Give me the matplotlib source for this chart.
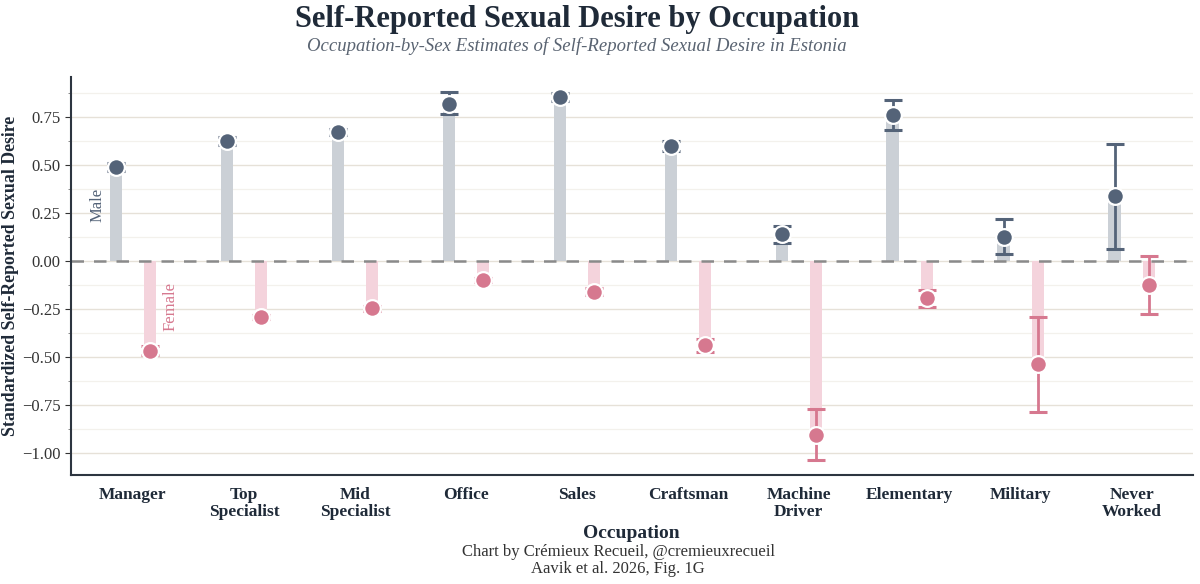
import numpy as np
import matplotlib
matplotlib.use("Agg")
import matplotlib.pyplot as plt
from matplotlib.ticker import MultipleLocator

occupations = ["Manager", "Top\nSpecialist", "Mid\nSpecialist", "Office", "Sales",
               "Craftsman", "Machine\nDriver", "Elementary", "Military", "Never\nWorked"]

male_est = [0.49, 0.625, 0.67, 0.82, 0.855, 0.60, 0.14, 0.76, 0.127, 0.338]
male_lo = [0.47, 0.605, 0.655, 0.765, 0.835, 0.575, 0.095, 0.68, 0.035, 0.062]
male_hi = [0.51, 0.645, 0.685, 0.88, 0.875, 0.625, 0.18, 0.84, 0.217, 0.61]

female_est = [-0.468, -0.293, -0.248, -0.098, -0.16, -0.44, -0.905, -0.195, -0.54, -0.125]
female_lo = [-0.49, -0.305, -0.26, -0.11, -0.18, -0.475, -1.04, -0.24, -0.79, -0.278]
female_hi = [-0.445, -0.28, -0.236, -0.087, -0.14, -0.405, -0.77, -0.152, -0.295, 0.028]

male_dark = "#546378"
male_stem = "#cbd0d6"
female_dark = "#d6788f"
female_stem = "#f4d3dc"
text_dark = "#1f2a38"

plt.rcParams["font.family"] = ["Liberation Serif", "DejaVu Serif"]

fig, ax = plt.subplots(figsize=(12, 5.84), dpi=100)
fig.subplots_adjust(left=0.059, right=0.994, top=0.868, bottom=0.187)

x = np.arange(len(occupations))
off = 0.155

# light stems from zero to each estimate
ax.bar(x - off, male_est, width=0.11, color=male_stem, zorder=2)
ax.bar(x + off, female_est, width=0.11, color=female_stem, zorder=2)

for xs, est, lo, hi, col in [(x - off, male_est, male_lo, male_hi, male_dark),
                             (x + off, female_est, female_lo, female_hi, female_dark)]:
    est = np.array(est)
    yerr = [est - np.array(lo), np.array(hi) - est]
    ax.errorbar(xs, est, yerr=yerr, fmt="none", ecolor=col, elinewidth=2,
                capsize=6.4, capthick=2.2, zorder=3)
    ax.scatter(xs, est, s=145, color=col, edgecolor="white", linewidth=1.6, zorder=4)

ax.axhline(0, color="#8a8a8a", linestyle=(0, (5, 4)), linewidth=1.8, zorder=2.5)

ax.text(-off - 0.16, 0.29, "Male", rotation=90, ha="center", va="center",
        color=male_dark, fontsize=12)
ax.text(off + 0.18, -0.24, "Female", rotation=90, ha="center", va="center",
        color=female_dark, fontsize=12)

ax.set_xlim(-0.56, 9.55)
ax.set_ylim(-1.115, 0.958)
ax.yaxis.set_major_locator(MultipleLocator(0.25))
ax.yaxis.set_minor_locator(MultipleLocator(0.125))
ticks = np.arange(-1.0, 0.76, 0.25)
ax.set_yticks(ticks)
ax.set_yticklabels([f"{v:.2f}".replace("-", "\u2212") for v in ticks])
ax.grid(axis="y", which="major", color="#e6e1d8", linewidth=1.0, zorder=0)
ax.grid(axis="y", which="minor", color="#f3f1ec", linewidth=0.9, zorder=0)
ax.set_axisbelow(True)

ax.set_xticks(x)
ax.set_xticklabels(occupations, fontsize=12.5, fontweight="bold", color=text_dark,
                   linespacing=1.1)
ax.tick_params(axis="x", length=0, pad=9)
ax.tick_params(axis="y", which="major", length=4, color="#333333", labelsize=12,
               labelcolor="#333333")
ax.tick_params(axis="y", which="minor", length=2, color="#777777")

for side in ["top", "right"]:
    ax.spines[side].set_visible(False)
for side in ["left", "bottom"]:
    ax.spines[side].set_color("#2d3540")
    ax.spines[side].set_linewidth(1.5)

ax.set_ylabel("Standardized Self-Reported Sexual Desire", fontsize=12.8,
              fontweight="bold", color=text_dark)
ax.yaxis.set_label_coords(-0.046, 0.5)
ax.set_xlabel("Occupation", fontsize=14, fontweight="bold", color=text_dark, labelpad=3)

fig.text(0.481, 0.967, "Self-Reported Sexual Desire by Occupation", ha="center",
         va="center", fontsize=22, fontweight="bold", color=text_dark)
fig.text(0.481, 0.921, "Occupation-by-Sex Estimates of Self-Reported Sexual Desire in Estonia",
         ha="center", va="center", fontsize=13.5, style="italic", color="#5a6472")
fig.text(0.515, 0.054, "Chart by Crémieux Recueil, @cremieuxrecueil", ha="center",
         va="center", fontsize=12, color="#333333")
fig.text(0.515, 0.025, "Aavik et al. 2026, Fig. 1G", ha="center", va="center",
         fontsize=12, color="#333333")

fig.savefig("out.png", dpi=100)
